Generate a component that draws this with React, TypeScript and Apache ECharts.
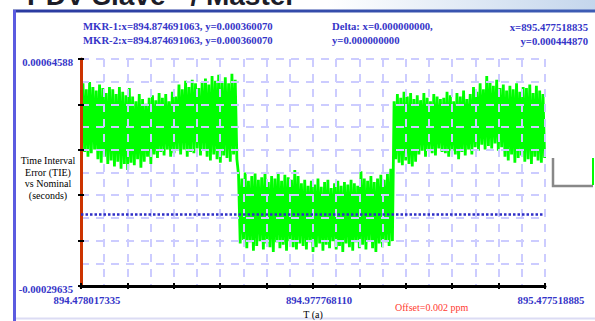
import React, { useEffect, useRef } from "react";
import * as echarts from "echarts";

// ---- axis definitions ----
const T_START = 894.478017335;
const T_END = 895.477518885;
const xTickLabels = ["894.478017335", "894.977768110", "895.477518885"];
const Y_MIN_US = -296.35; // -0.00029635 s
const Y_MAX_US = 645.88; // 0.00064588 s
const yTickLabels = ["-0.00029635", "0.00064588"];

// ---- TIE samples (µs), peak / trough pairs ----
const highA = [545, 520, 550, 530, 515, 540, 525, 505, 530, 520, 500, 530, 510, 495, 525, 490, 470, 500, 480, 460, 485, 495, 475, 505, 485, 500, 470, 510, 490, 540, 520, 555, 530, 560, 545, 525, 550, 565, 540, 575, 555, 580, 550, 570, 545, 585, 560];
const lowA = [260, 240, 255, 270, 230, 215, 240, 210, 225, 200, 220, 190, 210, 185, 215, 205, 230, 195, 220, 240, 210, 250, 235, 260, 245, 270, 240, 255, 265, 250, 270, 240, 260, 255, 275, 245, 265, 240, 225, 250, 230, 215, 245, 235, 220, 250, 230];
const highB = [165, 150, 175, 140, 160, 170, 145, 155, 175, 135, 160, 150, 170, 140, 165, 155, 145, 185, 160, 130, 145, 120, 140, 125, 150, 115, 135, 145, 110, 130, 140, 120, 135, 125, 145, 130, 120, 180, 150, 140, 160, 135, 150, 165, 145, 170];
const lowB = [-120, -105, -140, -115, -150, -130, -110, -145, -120, -135, -155, -115, -140, -125, -150, -110, -135, -145, -120, -130, -145, -115, -155, -135, -120, -150, -125, -140, -110, -145, -130, -155, -120, -135, -150, -115, -140, -125, -145, -110, -140, -155, -120, -135, -115, -130];
const highC = [190, 470, 500, 485, 510, 490, 505, 480, 495, 475, 505, 485, 470, 500, 490, 480, 485, 510, 495, 470, 505, 490, 515, 480, 500, 530, 510, 545, 520, 575, 550, 535, 560, 525, 540, 515, 535, 520, 545, 510, 530, 525, 540, 505, 535, 515, 500];
const lowC = [-110, 230, 215, 205, 225, 210, 200, 220, 250, 265, 240, 270, 255, 245, 275, 260, 255, 240, 265, 250, 230, 260, 245, 270, 250, 280, 265, 290, 270, 285, 275, 295, 265, 280, 240, 225, 250, 215, 235, 245, 220, 230, 210, 240, 225, 215, 235];
const DATA_T_FROM = 0.0043; // offset from T_START (s)
const DATA_T_TO = 0.9952;
const ZERO_LINE = [0, 0.9952];

const BLUE = "#3535c8";
const SERIF = "'Liberation Serif', 'Times New Roman', serif";

export default function App() {
  const ref = useRef<HTMLDivElement>(null);
  useEffect(() => {
    document.body.style.margin = "0";
    if (!ref.current) return;
    const chart = echarts.init(ref.current, undefined, { renderer: "svg" });
    const xSpan = T_END - T_START;
    const ySpan = Y_MAX_US - Y_MIN_US;
    const highs = [...highA, ...highB, ...highC];
    const lows = [...lowA, ...lowB, ...lowC];
    const step = (DATA_T_TO - DATA_T_FROM) / (highs.length - 1);
    const pts: number[][] = [];
    highs.forEach((h, i) => {
      const t = DATA_T_FROM + i * step;
      pts.push([t, h - Y_MIN_US]);
      pts.push([t + step / 2, lows[i] - Y_MIN_US]);
    });
    const grid = { color: "#ccccff", width: 2, type: [8, 7] as any };
    const boldLabel = { fontFamily: SERIF, fontWeight: "bold" as const, fontSize: 10.7, color: BLUE };
    chart.setOption({
      animation: false,
      backgroundColor: "#fff",
      grid: { left: 81, right: 50, top: 59, bottom: 35, containLabel: false, outerBoundsMode: "none" },
      xAxis: [
        {
          type: "value", min: 0, max: xSpan, interval: xSpan / 10, position: "bottom", z: 3,
          axisLine: { show: true, onZero: false, lineStyle: { color: "#000", width: 3 } },
          axisTick: { show: true, length: 3, lineStyle: { color: "#000", width: 2 } },
          minorTick: { show: false, splitNumber: 2 },
          splitLine: { show: true, lineStyle: grid },
          minorSplitLine: { show: true, lineStyle: grid },
          axisLabel: {
            ...boldLabel, margin: 8, padding: [0, 0, 0, 12], showMinLabel: true, showMaxLabel: true,
            formatter: (v: number) => {
              const k = Math.round((v / xSpan) * 10);
              return k === 0 ? xTickLabels[0] : k === 5 ? xTickLabels[1] : k === 10 ? xTickLabels[2] : "";
            },
          },
          name: "T (a)", nameLocation: "middle", nameGap: 17,
          nameTextStyle: { fontFamily: SERIF, fontSize: 10, color: "#000" },
        },
        {
          type: "value", min: 0, max: xSpan, interval: xSpan / 10, position: "bottom", z: 3,
          axisLine: { show: false, onZero: false },
          axisTick: { show: true, inside: true, length: 3, lineStyle: { color: "#000", width: 2 } },
          axisLabel: { show: false }, splitLine: { show: false },
        },
      ],
      yAxis: [
        {
          type: "value", min: 0, max: ySpan, interval: ySpan / 5, position: "left", z: 3,
          axisLine: { show: true, onZero: false, lineStyle: { color: "#cc3300", width: 3 } },
          axisTick: { show: true, length: 3, lineStyle: { color: "#000", width: 2 } },
          minorTick: { show: false, splitNumber: 2 },
          splitLine: { show: true, lineStyle: grid },
          minorSplitLine: { show: true, lineStyle: grid },
          axisLabel: {
            ...boldLabel, margin: 8, verticalAlign: "top", lineHeight: 6, showMinLabel: true, showMaxLabel: true,
            formatter: (v: number) => {
              const k = Math.round((v / ySpan) * 5);
              return k === 0 ? yTickLabels[0] : k === 5 ? yTickLabels[1] : "";
            },
          },
        },
        {
          type: "value", min: 0, max: ySpan, interval: ySpan / 5, position: "left", z: 3,
          axisLine: { show: false, onZero: false },
          axisTick: { show: true, inside: true, length: 3, lineStyle: { color: "#000", width: 2 } },
          axisLabel: { show: false }, splitLine: { show: false },
        },
      ],
      series: [
        {
          type: "line", name: "TIE", data: pts, showSymbol: false, symbol: "none", z: 2,
          lineStyle: { color: "#00ff00", width: 2.8 }, silent: true,
        },
        {
          type: "line", name: "Nominal", z: 5, showSymbol: false, symbol: "none",
          data: ZERO_LINE.map((t) => [t, 0 - Y_MIN_US]),
          lineStyle: { color: "#2f2fc8", width: 2.5, type: [2.5, 2] },
        },
      ],
      graphic: [
        {
          type: "rect", shape: { x: 0, y: 0, width: 595, height: 10 }, z: -1,
          style: {
            fill: new echarts.graphic.LinearGradient(0, 0, 1, 0, [
              { offset: 0, color: "#ffffff" },
              { offset: 0.55, color: "#ffffff" },
              { offset: 1, color: "#c4d6ec" },
            ]),
          },
        },
        {
          type: "text", x: 27, y: -5, z: 1,
          style: { text: "PDV Slave - / Master", fontFamily: "'Liberation Sans', Arial, sans-serif", fontWeight: "bold", fontSize: 28, fill: "#1c1c28", textVerticalAlign: "middle" },
        },
        { type: "rect", shape: { x: 13, y: 9.5, width: 582, height: 3 }, style: { fill: new echarts.graphic.LinearGradient(0, 0, 1, 0, [{ offset: 0, color: "#2a3aa0" }, { offset: 1, color: "#3d5cb4" }]) } },
        { type: "rect", shape: { x: 13, y: 10, width: 3, height: 311 }, style: { fill: "#5b5be0" } },
        { type: "rect", shape: { x: 16, y: 317.5, width: 579, height: 2 }, style: { fill: "#dcdcf4" } },
        { type: "text", x: 83, y: 26, style: { text: "MKR-1:x=894.874691063, y=0.000360070", ...boldLabel, fill: BLUE, textVerticalAlign: "middle" } },
        { type: "text", x: 83, y: 39.5, style: { text: "MKR-2:x=894.874691063, y=0.000360070", ...boldLabel, fill: BLUE, textVerticalAlign: "middle" } },
        { type: "text", x: 332, y: 26, style: { text: "Delta: x=0.000000000,", ...boldLabel, fill: BLUE, textVerticalAlign: "middle" } },
        { type: "text", x: 332, y: 39.5, style: { text: "y=0.000000000", ...boldLabel, fill: BLUE, textVerticalAlign: "middle" } },
        { type: "text", x: 588, y: 27, style: { text: "x=895.477518835", ...boldLabel, fill: BLUE, textAlign: "right", textVerticalAlign: "middle" } },
        { type: "text", x: 588, y: 41, style: { text: "y=0.000444870", ...boldLabel, fill: BLUE, textAlign: "right", textVerticalAlign: "middle" } },
        {
          type: "text", x: 48, y: 178,
          style: { text: "Time Interval\nError (TIE)\nvs Nominal\n(seconds)", fontFamily: SERIF, fontSize: 10, lineHeight: 11.7, fill: "#000", textAlign: "center", textVerticalAlign: "middle" },
        },
        { type: "text", x: 395, y: 307, style: { text: "Offset=0.002 ppm", fontFamily: SERIF, fontSize: 10, fill: "#ff3b30", textVerticalAlign: "middle" } },
        { type: "polyline", shape: { points: [[553, 158], [553, 186], [593, 186]] }, style: { stroke: "#888888", lineWidth: 2.5, fill: "none" } },
        { type: "line", shape: { x1: 593, y1: 158, x2: 593, y2: 185 }, style: { stroke: "#00ff00", lineWidth: 2 } },
      ],
    });
    return () => chart.dispose();
  }, []);
  return <div ref={ref} style={{ width: 595, height: 321 }} />;
}
